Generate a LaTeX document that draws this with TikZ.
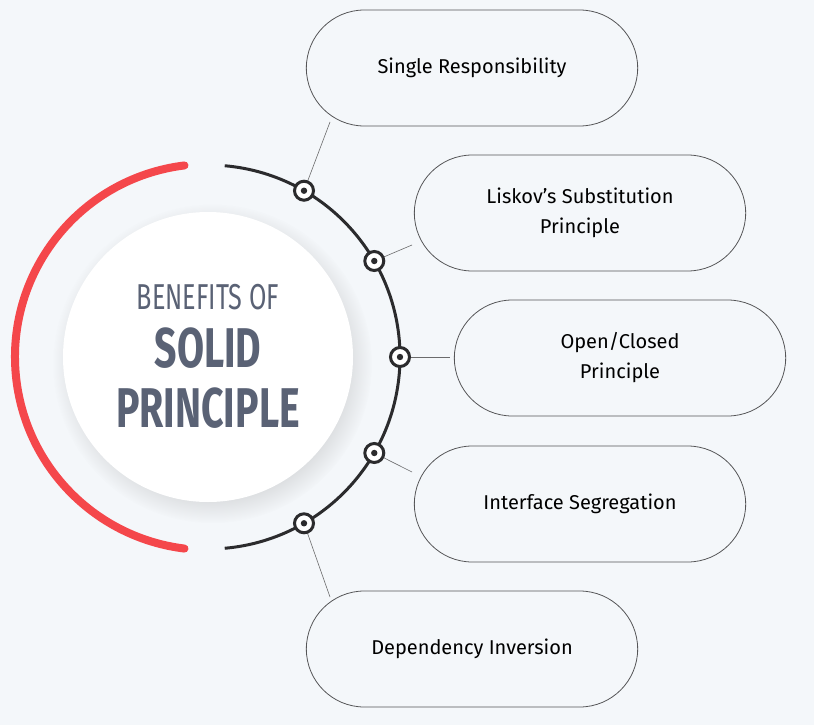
\documentclass[tikz,border=0pt]{standalone}
\usepackage{fontspec}
\setmainfont{Fira Sans}
\newfontfamily\titlefont[FakeStretch=0.7]{Fira Sans}
\usetikzlibrary{shapes.misc,shadows,positioning}
\definecolor{bgcol}{HTML}{F4F7FA}
\definecolor{redarc}{HTML}{F4474B}
\definecolor{darkarc}{HTML}{2B2B2D}
\definecolor{titlecol}{HTML}{5A6275}
\tikzset{
  pill/.style={draw=darkarc!80,line width=0.8pt,fill=bgcol,rounded rectangle,
    minimum width=338pt,minimum height=116pt,align=center,font=\fontsize{20}{30}\selectfont},
  dot/.style={circle,draw=darkarc,line width=3pt,fill=white,minimum size=19pt,inner sep=0pt,
    path picture={\fill[darkarc] (path picture bounding box.center) circle (3.2pt);}},
  link/.style={draw=darkarc!70,line width=0.6pt},
  titletext/.style={text=titlecol,font=\titlefont,inner sep=0pt}
}
\begin{document}
\begin{tikzpicture}[x=1pt,y=-1pt]
  \fill[bgcol] (0,0) rectangle (814,725);
  \useasboundingbox (0,0) rectangle (814,725);
  % arcs
  \draw[redarc,line width=8pt,line cap=round] (208,357) ++(-97:193) arc[start angle=-97,end angle=-263,radius=193];
  \draw[darkarc,line width=3pt] (208,357) ++(-85:192) arc[start angle=-85,end angle=85,radius=192];
  % centre disc
  \node[circle,fill=white,minimum size=290pt,
    circular drop shadow={shadow xshift=4pt,shadow yshift=-6pt,opacity=0.25,fill=black!40}]
    (core) at (208,357) {};
  \node[titletext,font=\titlefont\fontsize{36}{40}\selectfont] (title1) at (208,297) {BENEFITS OF};
  \node[titletext,font=\titlefont\fontsize{56}{60}\selectfont\bfseries] (title2) at (208,348) {SOLID};
  \node[titletext,font=\titlefont\fontsize{56}{60}\selectfont\bfseries] (title3) at (208,408) {PRINCIPLE};
  % principles
  \node[pill] (p1) at (472,68) {Single Responsibility};
  \node[pill] (p2) at (580,213) {Liskov's Substitution\\Principle};
  \node[pill] (p3) at (620,358) {Open/Closed\\Principle};
  \node[pill] (p4) at (580,504) {Interface Segregation};
  \node[pill] (p5) at (472,649) {Dependency Inversion};
  \coordinate (c1) at (330,122);
  \coordinate (c2) at (412,245);
  \coordinate (c3) at (450,357);
  \coordinate (c4) at (412,472);
  \coordinate (c5) at (330,597);
  \foreach \i/\a in {1/60,2/30,3/0,4/-30,5/-60}{
    \path (208,357) ++(\a:192 and -192) coordinate (k\i);
    \draw[link] (k\i) -- (c\i);
    \node[dot] (d\i) at (k\i) {};
  }
\end{tikzpicture}
\end{document}
